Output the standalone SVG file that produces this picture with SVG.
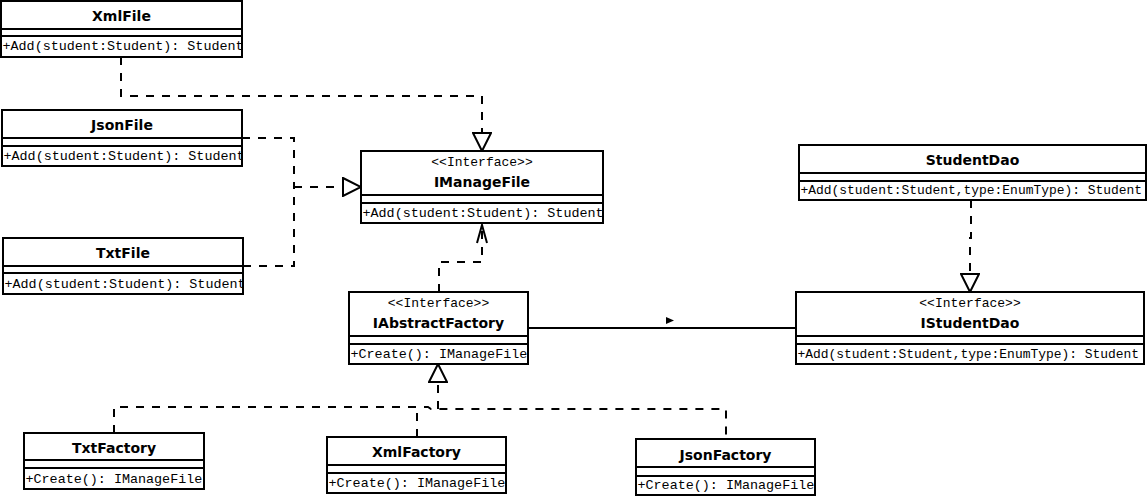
<svg xmlns="http://www.w3.org/2000/svg" width="1148" height="496" viewBox="0 0 1148 496">
<style>
.box{fill:#fff;stroke:#000;stroke-width:2}
.sep{stroke:#000;stroke-width:2}
.t{font-family:"DejaVu Sans",Verdana,sans-serif;font-weight:bold;font-size:14px;text-anchor:middle;fill:#000}
.st{font-family:"Liberation Mono","Courier New",monospace;font-size:13px;text-anchor:middle;fill:#000}
.m{font-family:"Liberation Mono","Courier New",monospace;font-size:13.4px;fill:#000}
.m2{font-family:"Liberation Mono","Courier New",monospace;font-size:12.95px;fill:#000}
.dash{fill:none;stroke:#000;stroke-width:2;stroke-dasharray:8 8}
.solid{fill:none;stroke:#000;stroke-width:2}
</style>
<defs>
<marker id="tri" viewBox="0 0 20 20" refX="19" refY="10" markerWidth="20" markerHeight="20" markerUnits="userSpaceOnUse" orient="auto">
<path d="M1,1 L19,10 L1,19 Z" fill="#fff" stroke="#000" stroke-width="2" stroke-dasharray="none"/>
</marker>
<clipPath id="cXml"><rect x="1" y="36" width="241" height="21"/></clipPath>
<clipPath id="cJson"><rect x="2" y="146" width="240" height="20"/></clipPath>
<clipPath id="cTxt"><rect x="3" y="273" width="240" height="21"/></clipPath>
<clipPath id="cIMF"><rect x="361" y="203" width="242" height="20"/></clipPath>
<clipPath id="cIAF"><rect x="349" y="344" width="179" height="20"/></clipPath>
<clipPath id="cTF"><rect x="24" y="468" width="180" height="21"/></clipPath>
<clipPath id="cXF"><rect x="327" y="473" width="179" height="20"/></clipPath>
<clipPath id="cJF"><rect x="636" y="476" width="179" height="19"/></clipPath>
</defs>
<rect x="0" y="0" width="1148" height="496" fill="#fff"/>

<g id="connectors">
<path class="dash" d="M121,57 V96 H482 V151" marker-end="url(#tri)"/>
<path class="dash" d="M242,138 H294 V187"/>
<path class="dash" d="M243,266 H294 V187"/>
<path class="dash" d="M294,187 H361" marker-end="url(#tri)"/>
<path class="dash" d="M439,292 V262 H482 V226"/>
<path class="solid" d="M477,243 L482,225 L487,243"/>
<path class="dash" d="M971,200 V238 H970 V292" marker-end="url(#tri)"/>
<path class="solid" d="M528,328 H796"/>
<polygon points="666,317 674,320.5 666,324" fill="#000"/>
<path class="dash" d="M114,433 V407 H428 L431,409 H726 V439"/>
<path class="dash" d="M417,437 V407"/>
<path class="dash" d="M438,409 V364" marker-end="url(#tri)"/>
</g>

<g id="XmlFile">
<rect class="box" x="1" y="1" width="241" height="56"/>
<line class="sep" x1="1" y1="29" x2="242" y2="29"/>
<line class="sep" x1="1" y1="36" x2="242" y2="36"/>
<text class="t" x="121.5" y="21">XmlFile</text>
<text class="m" x="2.5" y="50" clip-path="url(#cXml)">+Add(student:Student): Student</text>
</g>

<g id="JsonFile">
<rect class="box" x="2" y="110" width="240" height="56"/>
<line class="sep" x1="2" y1="138" x2="242" y2="138"/>
<line class="sep" x1="2" y1="146" x2="242" y2="146"/>
<text class="t" x="122" y="130">JsonFile</text>
<text class="m" x="3.5" y="160" clip-path="url(#cJson)">+Add(student:Student): Student</text>
</g>

<g id="TxtFile">
<rect class="box" x="3" y="238" width="240" height="56"/>
<line class="sep" x1="3" y1="266" x2="243" y2="266"/>
<line class="sep" x1="3" y1="273" x2="243" y2="273"/>
<text class="t" x="123" y="258">TxtFile</text>
<text class="m" x="4.5" y="288" clip-path="url(#cTxt)">+Add(student:Student): Student</text>
</g>

<g id="IManageFile">
<rect class="box" x="361" y="151" width="242" height="72"/>
<line class="sep" x1="361" y1="195" x2="603" y2="195"/>
<line class="sep" x1="361" y1="203" x2="603" y2="203"/>
<text class="st" x="482" y="166">&lt;&lt;Interface&gt;&gt;</text>
<text class="t" x="482" y="187">IManageFile</text>
<text class="m" x="362.5" y="217" clip-path="url(#cIMF)">+Add(student:Student): Student</text>
</g>

<g id="StudentDao">
<rect class="box" x="799" y="145" width="347" height="55"/>
<line class="sep" x1="799" y1="173" x2="1146" y2="173"/>
<line class="sep" x1="799" y1="181" x2="1146" y2="181"/>
<text class="t" x="972.5" y="165">StudentDao</text>
<text class="m2" x="800.5" y="194">+Add(student:Student,type:EnumType): Student</text>
</g>

<g id="IStudentDao">
<rect class="box" x="796" y="292" width="348" height="72"/>
<line class="sep" x1="796" y1="336" x2="1144" y2="336"/>
<line class="sep" x1="796" y1="344" x2="1144" y2="344"/>
<text class="st" x="970" y="307">&lt;&lt;Interface&gt;&gt;</text>
<text class="t" x="970" y="328">IStudentDao</text>
<text class="m2" x="797.5" y="358">+Add(student:Student,type:EnumType): Student</text>
</g>

<g id="IAbstractFactory">
<rect class="box" x="349" y="292" width="179" height="72"/>
<line class="sep" x1="349" y1="336" x2="528" y2="336"/>
<line class="sep" x1="349" y1="344" x2="528" y2="344"/>
<text class="st" x="438.5" y="307">&lt;&lt;Interface&gt;&gt;</text>
<text class="t" x="438.5" y="328">IAbstractFactory</text>
<text class="m" x="350.5" y="358" clip-path="url(#cIAF)">+Create(): IManageFile</text>
</g>

<g id="TxtFactory">
<rect class="box" x="24" y="433" width="180" height="56"/>
<line class="sep" x1="24" y1="460" x2="204" y2="460"/>
<line class="sep" x1="24" y1="468" x2="204" y2="468"/>
<text class="t" x="114" y="453">TxtFactory</text>
<text class="m" x="25.5" y="483" clip-path="url(#cTF)">+Create(): IManageFile</text>
</g>

<g id="XmlFactory">
<rect class="box" x="327" y="437" width="179" height="56"/>
<line class="sep" x1="327" y1="465" x2="506" y2="465"/>
<line class="sep" x1="327" y1="473" x2="506" y2="473"/>
<text class="t" x="416.5" y="457">XmlFactory</text>
<text class="m" x="328.5" y="487" clip-path="url(#cXF)">+Create(): IManageFile</text>
</g>

<g id="JsonFactory">
<rect class="box" x="636" y="439" width="179" height="56"/>
<line class="sep" x1="636" y1="467" x2="815" y2="467"/>
<line class="sep" x1="636" y1="476" x2="815" y2="476"/>
<text class="t" x="725.5" y="460">JsonFactory</text>
<text class="m" x="637.5" y="489" clip-path="url(#cJF)">+Create(): IManageFile</text>
</g>
</svg>
